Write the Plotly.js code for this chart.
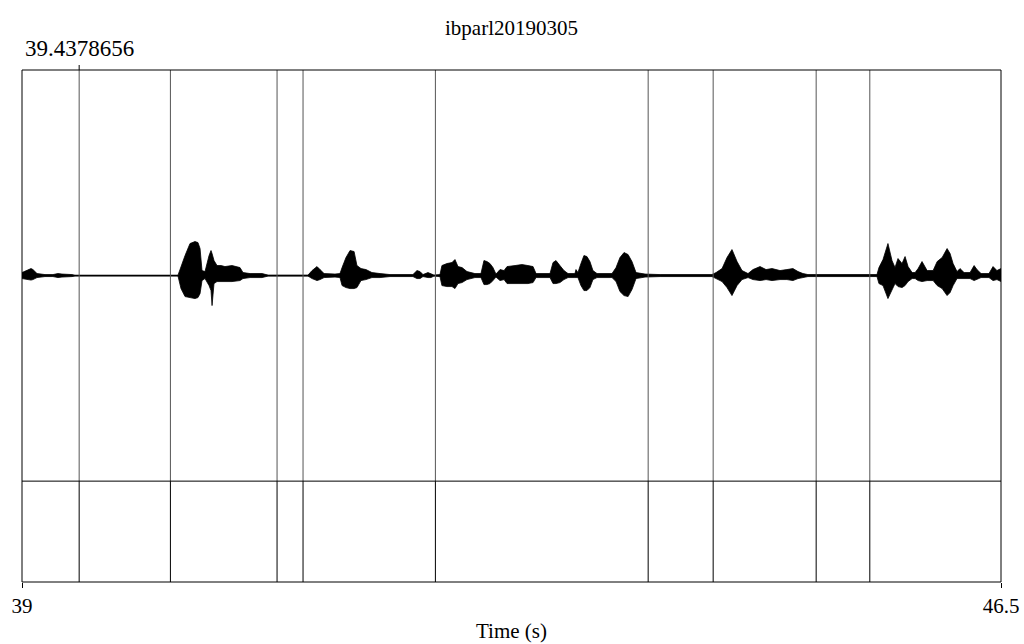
<!DOCTYPE html>
<html><head><meta charset="utf-8">
<script src="https://cdn.plot.ly/plotly-3.0.1.min.js"></script>
<style>html,body{margin:0;padding:0;background:#fff}#chart{width:1024px;height:644px}</style>
</head><body><div id="chart"></div>
<script>
// Waveform envelope (time in s, amplitude in arbitrary units)
const envTime = [
 39.000,39.069,39.084,39.115,39.176,39.237,39.276,39.306,39.383,39.406,
 40.195,40.218,40.249,40.287,40.325,40.348,40.364,40.379,40.402,40.433,
 40.448,40.456,40.471,40.494,40.525,40.555,40.609,40.670,40.693,40.747,
 40.839,40.885,41.191,41.222,41.260,41.283,41.314,41.398,41.436,41.452,
 41.482,41.513,41.544,41.566,41.597,41.635,41.681,41.743,41.819,41.995,
 42.026,42.049,42.072,42.110,42.133,42.156,42.202,42.217,42.255,42.294,
 42.317,42.340,42.371,42.409,42.470,42.516,42.539,42.562,42.585,42.608,
 42.631,42.662,42.693,42.716,42.777,42.830,42.876,42.915,42.938,43.045,
 43.068,43.091,43.121,43.152,43.183,43.236,43.244,43.259,43.282,43.305,
 43.328,43.351,43.374,43.405,43.520,43.551,43.581,43.612,43.643,43.673,
 43.704,43.773,43.888,44.286,44.317,44.363,44.401,44.439,44.478,44.516,
 44.562,44.600,44.654,44.700,44.746,44.807,44.860,44.906,44.945,44.983,
 45.021,45.190,45.496,45.550,45.565,45.596,45.634,45.665,45.688,45.711,
 45.742,45.765,45.788,45.819,45.842,45.865,45.895,45.934,45.980,46.011,
 46.049,46.087,46.110,46.133,46.163,46.186,46.217,46.263,46.294,46.316,
 46.347,46.408,46.439,46.469,46.500
];
const envUpper = [
 3,7,6,2,1,1,2,1.5,1,0.4,
 0.4,9,20,32,34,33,27,5,4,20,
 25,22,15,10,10,9,10,8,3,2,
 2,0.5,0.5,5,9,6,2,1.5,2,8,
 18,25,24,10,7,6,3,2,1,1,
 5,4,1,3,2,0.5,1,10,12,13,
 16,9,8,4,2,2,15,14,12,8,
 1.5,6,5,9,10,11,10,9,2,2,
 13,15,10,5,2,2,6,3,12,20,
 19,14,5,2,2,8,18,23,21,14,
 3,1.5,1,1,3,7,18,26,14,5,
 2,6,9,6,7,5,6,7,4,2,
 1,1,0.5,1,8,16,32,15,8,17,
 12,19,9,3,3,7,14,5,5,14,
 18,27,22,12,4,7,3,3,10,6,
 2,2,9,5,7
];
const envLower = [
 3,4.5,4,2,1,1,2,1.5,1,0.4,
 0.4,13,21,22,23,22,18,5,3,10,
 15,30,8,6,6,6,6,5,3,2,
 2,0.5,0.5,3,5,4,2,1.5,2,10,
 12,13,13,12,5,4,2,2,1,1,
 3,3,1,2,2,0.5,1,10,11,11,
 13,8,7,4,2,2,9,9,8,5,
 1.5,5,4,8,8,8,8,7,2,2,
 8,8,7,4,2,2,2,2,10,15,
 15,12,4,2,2,6,16,20,21,14,
 3,1.5,1,1,3,6,12,20,10,4,
 2,4,5,4,5,4,4,5,3,2,
 1,1,0.5,1,8,10,23,15,8,11,
 12,10,6,3,3,5,6,5,5,10,
 13,20,17,10,3,3,3,3,5,4,
 2,2,5,4,6
];
const boundaries = [39.4378656, 40.137, 40.954, 41.153, 42.167, 43.797, 44.295, 45.084, 45.495];
const cursorTime = 39.4378656;
const cursorLabel = '39.4378656';
const timeStart = 39, timeEnd = 46.5;
const tickLabels = ['39', '46.5'];
const titleText = 'ibparl20190305';
const xTitle = 'Time (s)';

const FONT = 'Liberation Serif, Times New Roman, serif';
const tierSplit = 0.197;

const traces = [
  {x: envTime, y: envUpper, type: 'scatter', mode: 'lines', line: {color: '#000', width: 0.8}, hoverinfo: 'skip', showlegend: false},
  {x: envTime, y: envLower.map(v => -v), type: 'scatter', mode: 'lines', fill: 'tonexty', fillcolor: '#000', line: {color: '#000', width: 0.8}, hoverinfo: 'skip', showlegend: false},
  {x: [timeStart, timeEnd], y: [0, 0], type: 'scatter', mode: 'lines', line: {color: '#000', width: 1.2}, hoverinfo: 'skip', showlegend: false}
];

const shapes = [];
boundaries.forEach(b => {
  shapes.push({type: 'line', xref: 'x', yref: 'paper', x0: b, x1: b, y0: tierSplit, y1: 1, line: {color: '#555', width: 1}});
  shapes.push({type: 'line', xref: 'x', yref: 'paper', x0: b, x1: b, y0: 0, y1: tierSplit, line: {color: '#000', width: 1}});
});
shapes.push({type: 'line', xref: 'x', yref: 'paper', x0: cursorTime, x1: cursorTime, y0: 1, y1: 1 + 5/512, line: {color: '#000', width: 1}});
shapes.push({type: 'rect', xref: 'paper', yref: 'paper', x0: 0, x1: 1, y0: 0, y1: 1, line: {color: '#000', width: 1}});
shapes.push({type: 'line', xref: 'paper', yref: 'paper', x0: 0, x1: 1, y0: tierSplit, y1: tierSplit, line: {color: '#000', width: 1}});

const layout = {
  width: 1024, height: 644,
  margin: {l: 22, r: 23, t: 70, b: 62},
  paper_bgcolor: '#fff', plot_bgcolor: '#fff',
  font: {family: FONT, size: 21, color: '#000'},
  title: {text: titleText, font: {family: FONT, size: 21, color: '#000'}, x: 0.5, xref: 'paper', y: 1 - 28/644, yanchor: 'middle'},
  xaxis: {range: [timeStart, timeEnd], tickvals: [timeStart, timeEnd], ticktext: tickLabels,
          anchor: 'free', position: 0,
          ticks: 'outside', ticklen: 5, tickcolor: '#000', tickwidth: 1,
          showgrid: false, zeroline: false, showline: false,
          tickfont: {family: FONT, size: 21, color: '#000'}},
  yaxis: {domain: [tierSplit, 1], range: [-205.5, 205.5], visible: false, fixedrange: true},
  annotations: [
    {text: cursorLabel, xref: 'x', yref: 'paper', x: cursorTime, y: (582 - 48) / 512, yanchor: 'middle', showarrow: false, font: {family: FONT, size: 23, color: '#000'}},
    {text: xTitle, xref: 'paper', yref: 'paper', x: 0.5, y: (582 - 631) / 512, yanchor: 'middle', showarrow: false, font: {family: FONT, size: 21, color: '#000'}}
  ],
  shapes: shapes
};

Plotly.newPlot('chart', traces, layout, {displayModeBar: false, staticPlot: true});
</script>
</body></html>
